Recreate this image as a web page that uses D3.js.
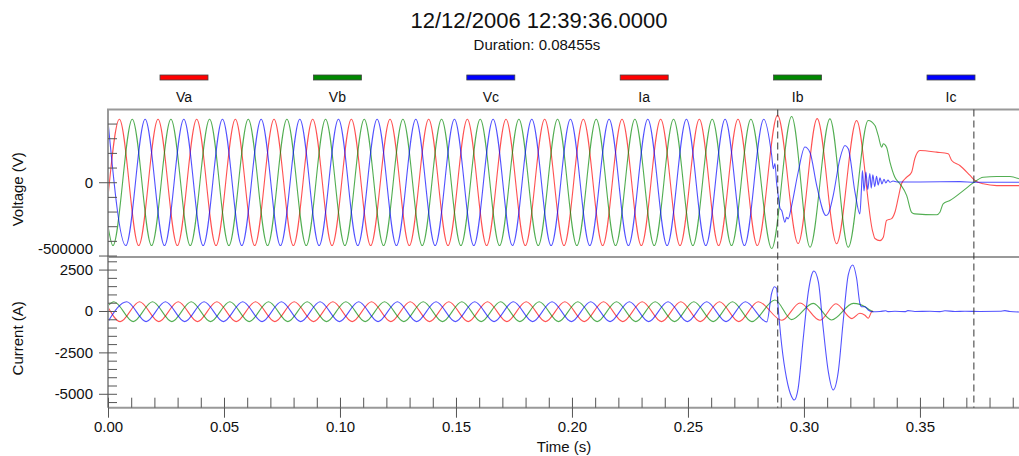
<!DOCTYPE html>
<html>
<head>
<meta charset="utf-8">
<script src="https://cdn.jsdelivr.net/npm/d3@7"></script>
<style>
  html, body { margin: 0; padding: 0; background: #fff; }
  svg { display: block; }
  text { font-family: "Liberation Sans", Arial, sans-serif; fill: #111; }
</style>
</head>
<body>
<svg id="chart" width="1019" height="456"></svg>
<script>
// ---------------- DATA (time in ms, voltage in kV, current in A) ----------------
const titleText = "12/12/2006 12:39:36.0000";
const subtitleText = "Duration: 0.08455s";
const seriesNames = ["Va", "Vb", "Vc", "Ia", "Ib", "Ic"];
const seriesColors = ["#ff0000", "#008800", "#0000ff", "#ff0000", "#008800", "#0000ff"];
const cursorTimes = [288.7, 373.25];

const va = [[0,-100],[4.9,430],[13.23,-432],[21.57,430],[29.9,-432],[38.23,430],[46.57,-432],[54.9,430],[63.23,-432],[71.57,430],[79.9,-432],[88.23,430],[96.57,-432],[104.9,430],[113.23,-432],[121.57,430],[129.9,-432],[138.23,430],[146.57,-432],[154.9,430],[163.23,-432],[171.57,430],[179.9,-432],[188.23,430],[196.57,-432],[204.9,430],[213.23,-432],[221.57,430],[229.9,-432],[238.23,430],[246.57,-432],[254.9,430],[263.23,-432],[271.57,430],[279.9,-432],[288.6,456],[297.5,-418],[305.7,434],[314.1,-420],[322.7,421],[329.7,-341],[330.6,-384],[332.8,-398],[334.2,-375],[335.6,-261],[337.8,-248],[339.2,-205],[340.6,-111],[342.1,-9],[344.3,34],[346.4,68],[347.8,162],[350.0,216],[357.2,205],[362.2,194],[363.7,148],[367.2,114],[371.6,46],[373.7,12],[377.3,-11],[383.1,-23],[392.7,-23]];

const vb = [[0,-300],[2.12,-432],[10.46,430],[18.79,-432],[27.12,430],[35.46,-432],[43.79,430],[52.12,-432],[60.46,430],[68.79,-432],[77.12,430],[85.46,-432],[93.79,430],[102.12,-432],[110.46,430],[118.79,-432],[127.12,430],[135.46,-432],[143.79,430],[152.12,-432],[160.46,430],[168.79,-432],[177.12,430],[185.46,-432],[193.79,430],[202.12,-432],[210.46,430],[218.79,-432],[227.12,430],[235.46,-432],[243.79,430],[252.12,-432],[260.46,430],[268.79,-432],[277.12,430],[286.1,-452],[294.7,448],[302.6,-443],[311.2,432],[319.1,-443],[327.7,421],[330.6,387],[332.0,319],[333.5,239],[334.2,262],[335.6,239],[337.1,136],[339.2,34],[341.4,-11],[344.3,-91],[346.4,-205],[347.8,-216],[357.2,-222],[358.6,-205],[360.0,-147],[362.9,-125],[368.7,-57],[373.0,-4],[377.3,34],[383.1,39],[388.8,39],[392.7,23]];

const vc = [[0,415],[7.68,-432],[16.01,430],[24.34,-432],[32.68,430],[41.01,-432],[49.34,430],[57.68,-432],[66.01,430],[74.34,-432],[82.68,430],[91.01,-432],[99.34,430],[107.68,-432],[116.01,430],[124.34,-432],[132.68,430],[141.01,-432],[149.34,430],[157.68,-432],[166.01,430],[174.34,-432],[182.68,430],[191.01,-432],[199.34,430],[207.68,-432],[216.01,430],[224.34,-432],[232.68,430],[241.01,-432],[249.34,430],[257.68,-432],[266.01,430],[274.34,-432],[282.68,430],[286.1,182],[286.8,93],[287.5,128],[288.2,-2],[288.9,-91],[289.7,-179],[290.4,-193],[291.8,-273],[292.5,-239],[293.2,-250],[294.7,-159],[297.5,68],[300.4,240],[302.6,203],[305.5,-23],[309.5,-227],[310.5,-215],[312.6,-91],[315.5,160],[317.7,250],[319.1,228],[322.0,-68],[324.1,-216],[324.8,-43],[325.2,80],[325.9,-60],[326.7,70],[327.5,-50],[328.4,60],[329.0,-40],[329.7,50],[330.5,-30],[331.3,40],[332.0,-20],[332.8,30],[333.6,-12],[334.5,20],[335.3,-5],[336.2,14],[337.1,0],[338.4,8],[340.1,2],[350,2],[367.2,4],[373.7,0],[392.7,0]];

const ia = [[0,225],[5.27,-640],[13.6,560],[21.93,-640],[30.27,560],[38.6,-640],[46.93,560],[55.27,-640],[63.6,560],[71.93,-640],[80.27,560],[88.6,-640],[96.93,560],[105.27,-640],[113.6,560],[121.93,-640],[130.27,560],[138.6,-640],[146.93,560],[155.27,-640],[163.6,560],[171.93,-640],[180.27,560],[188.6,-640],[196.93,560],[205.27,-640],[213.6,560],[221.93,-640],[230.27,560],[238.6,-640],[246.93,560],[255.27,-640],[263.6,560],[271.93,-640],[280.27,560],[290.5,-560],[298.3,480],[306.9,-560],[313.8,440],[320.7,-460],[324.1,-140],[326.3,-260],[327.7,-440],[329.2,-40],[329.7,0]];

const ib = [[0,320],[2.53,560],[10.86,-640],[19.2,560],[27.53,-640],[35.87,560],[44.2,-640],[52.53,560],[60.86,-640],[69.2,560],[77.53,-640],[85.87,560],[94.2,-640],[102.53,560],[110.86,-640],[119.2,560],[127.53,-640],[135.87,560],[144.2,-640],[152.53,560],[160.86,-640],[169.2,560],[177.53,-640],[185.87,560],[194.2,-640],[202.53,560],[210.86,-640],[219.2,560],[227.53,-640],[235.87,560],[244.2,-640],[252.53,560],[260.86,-640],[269.2,560],[277.53,-640],[287.5,660],[294.7,-520],[304.0,460],[311.9,-540],[321.3,460],[324.1,400],[326.3,260],[328.4,60],[329.9,-60]];

const ic = [[0,-640],[8.08,560],[16.41,-640],[24.75,560],[33.07,-640],[41.41,560],[49.74,-640],[58.08,560],[66.41,-640],[74.75,560],[83.07,-640],[91.41,560],[99.74,-640],[108.08,560],[116.41,-640],[124.75,560],[133.07,-640],[141.41,560],[149.74,-640],[158.08,560],[166.41,-640],[174.75,560],[183.07,-640],[191.41,560],[199.74,-640],[208.08,560],[216.41,-640],[224.75,560],[233.07,-640],[241.41,560],[249.74,-640],[258.08,560],[266.41,-640],[274.75,560],[284.0,-660],[286.1,1087],[287.2,1467],[288.2,1370],[288.9,163],[290.4,-2053],[292.5,-4064],[294.7,-5175],[295.8,-5374],[297.5,-4668],[299.7,-1649],[301.9,1165],[303.3,2174],[304.3,2415],[306.2,1769],[308.3,-1045],[310.5,-3665],[312.6,-4771],[314.8,-3665],[316.9,-646],[319.1,2174],[321.0,2778],[322.7,1975],[324.1,465],[324.8,260],[326.3,260],[327.7,60],[329.2,-42],[332.8,-30],[335.3,10],[336.2,-40],[339.2,-20],[343.5,-40],[344.8,20],[347.8,-30],[354.3,-20],[358.6,-40],[360.8,10],[365.1,-30],[369.4,-20],[375.9,-30],[384.5,-20],[386.6,20],[388.8,-30],[392.7,-60]];

// Axis ticks
const xMajorTicks = [0, 50, 100, 150, 200, 250, 300, 350];
const xTickLabels = ["0.00", "0.05", "0.10", "0.15", "0.20", "0.25", "0.30", "0.35"];
const xMinorTicks = [10,20,30,40,60,70,80,90,110,120,130,140,160,170,180,190,210,220,230,240,260,270,280,290,310,320,330,340,360,370,380,390];
const vMajorTicks = [0, -500];
const vTickLabels = ["0", "-500000"];
const vMinorTicks = [-500, -400, -300, -200, -100, 0, 100, 200, 300, 400];
const cMajorTicks = [2500, 0, -2500, -5000];
const cTickLabels = ["2500", "0", "-2500", "-5000"];
const cMinorTicks = [-5500,-5000,-4500,-4000,-3500,-3000,-2500,-2000,-1500,-1000,-500,0,500,1000,1500,2000,2500,3000];

// ---------------- LAYOUT ----------------
const L = 108, R = 1019, vTop = 109.5, sep = 257, bottom = 407.7;
const svg = d3.select("#chart");

const x = d3.scaleLinear().domain([0, 392.7]).range([L, R]);
const yV = d3.scaleLinear().domain([-510, 496]).range([sep, vTop]);
const yC = d3.scaleLinear().domain([-5840, 3260]).range([bottom, sep]);

const defs = svg.append("defs");
defs.append("clipPath").attr("id", "clipV").append("rect")
  .attr("x", L).attr("y", vTop).attr("width", R - L).attr("height", sep - vTop);
defs.append("clipPath").attr("id", "clipC").append("rect")
  .attr("x", L).attr("y", sep).attr("width", R - L).attr("height", bottom - sep);

// Title
svg.append("text").attr("x", 539).attr("y", 28).attr("text-anchor", "middle")
  .style("font-size", "22px").text(titleText);
svg.append("text").attr("x", 537).attr("y", 50).attr("text-anchor", "middle")
  .style("font-size", "15px").text(subtitleText);

// Legend
const legendX = d3.scalePoint().domain(seriesNames).range([184, 951]);
const lg = svg.append("g");
seriesNames.forEach((n, i) => {
  lg.append("rect").attr("x", legendX(n) - 24).attr("y", 75).attr("width", 48).attr("height", 5)
    .attr("fill", seriesColors[i]).attr("stroke", "#444").attr("stroke-width", 0.8);
  lg.append("text").attr("x", legendX(n)).attr("y", 102).attr("text-anchor", "middle")
    .style("font-size", "14px").text(n);
});

// Traces
const line = (ys) => d3.line().x(d => x(d[0])).y(d => ys(d[1])).curve(d3.curveMonotoneX);
const vSeries = [va, vb, vc];
const cSeries = [ia, ib, ic];
const gV = svg.append("g").attr("clip-path", "url(#clipV)");
vSeries.forEach((s, i) => {
  gV.append("path").attr("d", line(yV)(s)).attr("fill", "none")
    .attr("stroke", seriesColors[i]).attr("stroke-width", 1.1).attr("stroke-opacity", 0.68);
});
const gC = svg.append("g").attr("clip-path", "url(#clipC)");
cSeries.forEach((s, i) => {
  gC.append("path").attr("d", line(yC)(s)).attr("fill", "none")
    .attr("stroke", seriesColors[i + 3]).attr("stroke-width", 1.1).attr("stroke-opacity", 0.68);
});

// Frame lines
const frame = svg.append("g").attr("stroke", "#999").attr("stroke-width", 2);
frame.append("line").attr("x1", L - 1).attr("x2", R).attr("y1", vTop).attr("y2", vTop);
frame.append("line").attr("x1", L).attr("x2", R).attr("y1", sep).attr("y2", sep);
frame.append("line").attr("x1", L).attr("x2", R).attr("y1", bottom).attr("y2", bottom);
frame.append("line").attr("x1", L).attr("x2", L).attr("y1", vTop).attr("y2", bottom);

// Axes
function styleAxis(g) {
  g.select(".domain").remove();
  g.selectAll(".tick line").attr("stroke", "#555");
  g.selectAll(".tick text").style("font-size", "15px").attr("fill", "#111")
    .style("font-family", "'Liberation Sans', Arial, sans-serif");
}
// voltage
svg.append("g").attr("transform", `translate(${L},0)`)
  .call(d3.axisLeft(yV).tickValues(vMinorTicks).tickSize(-9).tickFormat(""))
  .call(styleAxis);
const vAx = svg.append("g").attr("transform", `translate(${L},0)`)
  .call(d3.axisLeft(yV).tickValues(vMajorTicks).tickSize(9).tickPadding(6)
    .tickFormat((d, i) => vTickLabels[i]))
  .call(styleAxis);
vAx.selectAll(".tick text").filter(d => d === -500).attr("dy", "-0.15em");
// current
svg.append("g").attr("transform", `translate(${L},0)`)
  .call(d3.axisLeft(yC).tickValues(cMinorTicks).tickSize(-9).tickFormat(""))
  .call(styleAxis);
svg.append("g").attr("transform", `translate(${L},0)`)
  .call(d3.axisLeft(yC).tickValues(cMajorTicks).tickSize(9).tickPadding(6)
    .tickFormat((d, i) => cTickLabels[i]))
  .call(styleAxis);
// time
svg.append("g").attr("transform", `translate(0,${bottom})`)
  .call(d3.axisBottom(x).tickValues(xMinorTicks.concat(xMajorTicks)).tickSize(-10).tickFormat(""))
  .call(styleAxis);
svg.append("g").attr("transform", `translate(0,${bottom})`)
  .call(d3.axisBottom(x).tickValues(xMajorTicks).tickSize(10).tickPadding(4)
    .tickFormat((d, i) => xTickLabels[i]))
  .call(styleAxis);

// Axis titles
svg.append("text").attr("transform", `translate(23,${(vTop + sep) / 2 + 6}) rotate(-90)`)
  .attr("text-anchor", "middle").style("font-size", "15px").text("Voltage (V)");
svg.append("text").attr("transform", `translate(23,${(sep + bottom) / 2 + 6}) rotate(-90)`)
  .attr("text-anchor", "middle").style("font-size", "15px").text("Current (A)");
svg.append("text").attr("x", 564).attr("y", 452).attr("text-anchor", "middle")
  .style("font-size", "15px").text("Time (s)");

// Cursors
cursorTimes.forEach(t => {
  svg.append("line").attr("x1", x(t)).attr("x2", x(t)).attr("y1", vTop).attr("y2", bottom)
    .attr("stroke", "#333").attr("stroke-width", 1).attr("stroke-dasharray", "7,4");
});
</script>
</body>
</html>
